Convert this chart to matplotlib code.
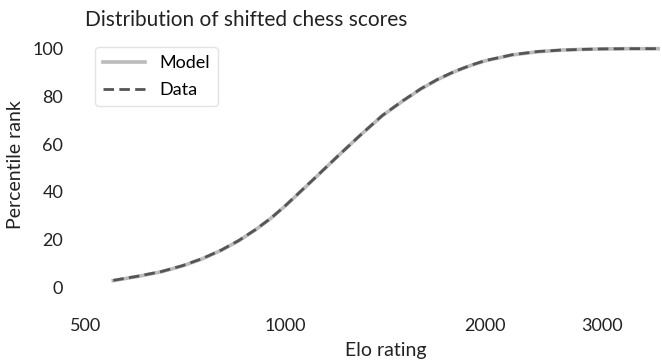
import matplotlib
matplotlib.use("Agg")
import matplotlib.pyplot as plt
from matplotlib.ticker import FixedLocator, NullLocator

plt.rcParams['font.family'] = ['Lato', 'DejaVu Sans']

# Elo rating values (x) and percentile ranks (y)
elo = [550, 600, 650, 700, 750, 800, 850, 900, 950, 1000, 1100, 1200, 1300,
       1400, 1500, 1600, 1700, 1800, 1900, 2000, 2200, 2400, 2600, 2800,
       3000, 3300, 3650]
data_pct = [2.8, 4.6, 6.5, 9.0, 12.0, 15.5, 19.5, 24.0, 28.8, 34.2, 45.0,
            55.0, 64.0, 72.0, 78.0, 83.2, 87.3, 90.5, 93.0, 95.0, 97.5,
            98.8, 99.4, 99.7, 99.9, 100.0, 100.0]
model_pct = [2.7, 4.5, 6.4, 8.9, 11.9, 15.4, 19.4, 23.9, 28.8, 34.1, 44.9,
             55.0, 64.0, 71.9, 77.9, 83.1, 87.2, 90.4, 92.9, 94.9, 97.4,
             98.7, 99.4, 99.7, 99.9, 100.0, 100.0]

xticks = [500, 1000, 2000, 3000]
xtick_labels = ['500', '1000', '2000', '3000']
yticks = [0, 20, 40, 60, 80, 100]

fig = plt.figure(figsize=(6.62, 3.64), dpi=100)
L, R, T, B = 80, 660, 37, 293
ax = fig.add_axes([L/662, 1 - B/364, (R - L)/662, (B - T)/364])

ax.plot(elo, model_pct, color='#bbbbbb', lw=2.6, label='Model')
ax.plot(elo, data_pct, color='#555555', lw=2.0, ls=(0, (3.8, 1.9)), label='Data')

ax.set_xscale('log')
ax.set_xlim(490, 3670)
ax.set_ylim(-2.5, 104.9)
ax.xaxis.set_major_locator(FixedLocator(xticks))
ax.xaxis.set_minor_locator(NullLocator())
ax.set_xticklabels(xtick_labels)
ax.set_yticks(yticks)
ax.tick_params(axis='both', length=0, labelsize=13, colors='#222222')
ax.tick_params(axis='x', pad=18)
ax.tick_params(axis='y', pad=12)
for s in ax.spines.values():
    s.set_visible(False)

ax.set_xlabel('Elo rating', fontsize=14, color='#222222')
ax.xaxis.set_label_coords((386 - L)/(R - L), (B - 342)/(B - T))
ax.set_ylabel('Percentile rank', fontsize=14, color='#222222')
ax.yaxis.set_label_coords((24 - L)/(R - L), 0.5)
ax.set_title('Distribution of shifted chess scores', fontsize=15,
             color='#222222', loc='left', x=(85 - L)/(R - L), pad=8)

leg = ax.legend(loc='upper left', bbox_to_anchor=((95 - L)/(R - L), (B - 47)/(B - T)),
                fontsize=13, frameon=True, handlelength=2.3, handletextpad=0.8,
                borderpad=0.45, labelspacing=0.6, borderaxespad=0)
leg.get_frame().set_edgecolor('#dddddd')
leg.get_frame().set_linewidth(1.0)

fig.savefig('out.png', dpi=100, facecolor='white')
